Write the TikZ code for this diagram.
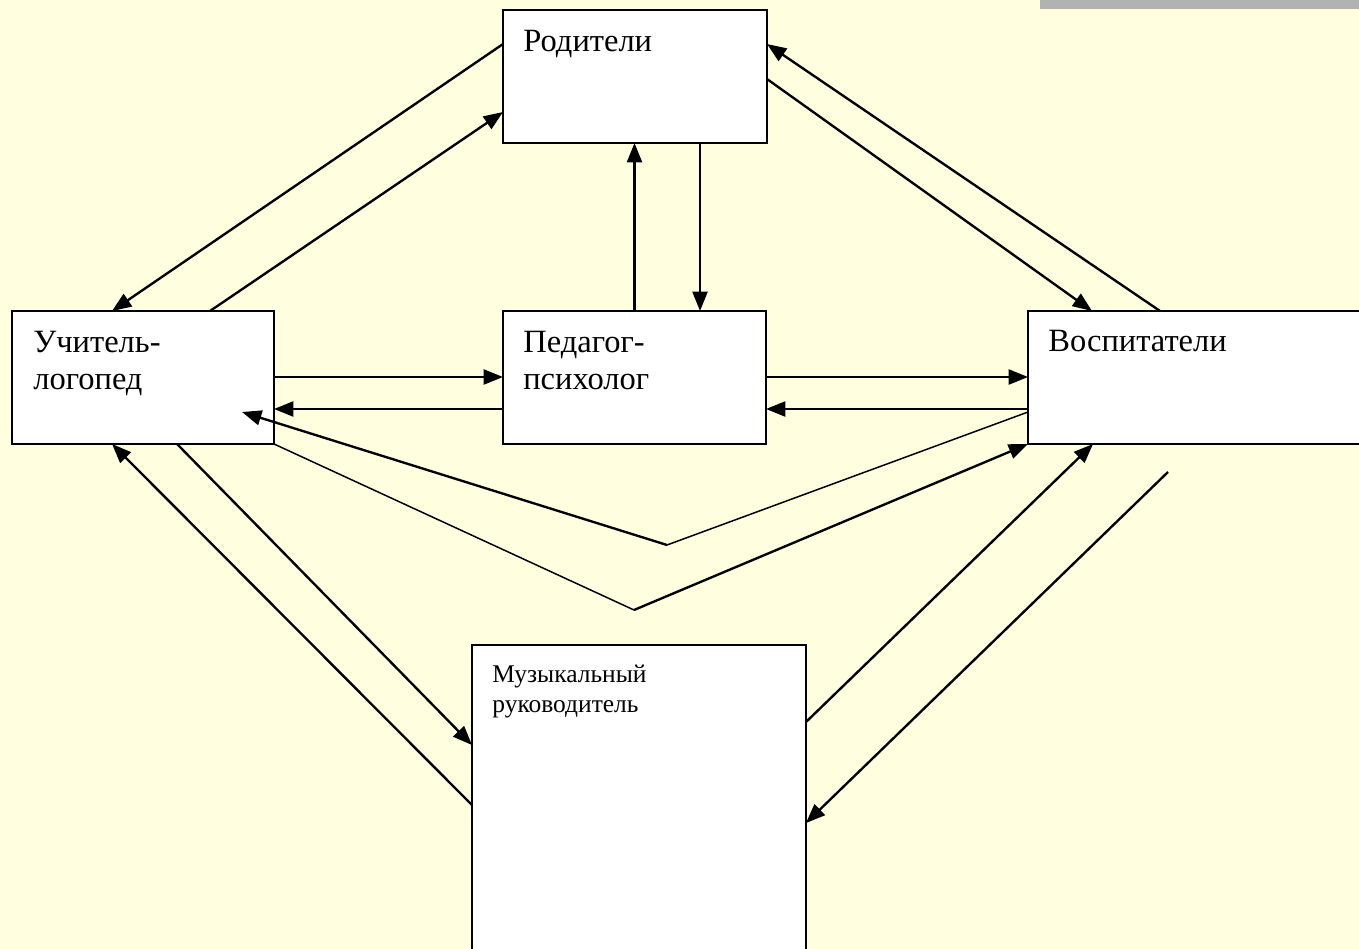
\documentclass[tikz,border=0pt]{standalone}
\usepackage{fontspec}
\setmainfont{Liberation Serif}
\usetikzlibrary{arrows.meta,calc}

\definecolor{paper}{RGB}{255,255,224}
\definecolor{topbar}{RGB}{178,178,178}

\tikzset{
    box/.style={draw, rectangle, fill=white, line width=0.9pt, inner sep=0pt, outer sep=0pt},
    lbl/.style={anchor=base west, inner sep=0pt, align=left, font=\fontsize{18.5}{21.6}\selectfont},
    small lbl/.style={lbl, font=\fontsize{14.5}{17}\selectfont},
    link/.style={line width=1.35pt, -{Triangle[length=11pt,width=8.5pt]}},
    thin link/.style={line width=0.85pt}
}

\begin{document}
\begin{tikzpicture}[x=0.02cm, y=-0.02cm]
            \fill[paper] (0,0) rectangle (1359,949);
            \useasboundingbox (0,0) rectangle (1359,949);
            \fill[topbar] (1040,0) rectangle (1359,9);

            % boxes
            \node[box, minimum width=5.28cm, minimum height=2.66cm] (rod) at (635,76.5) {};
            \node[box, minimum width=5.24cm, minimum height=2.66cm] (log) at (143,377.5) {};
            \node[box, minimum width=5.26cm, minimum height=2.66cm] (psy) at (634.5,377.5) {};
            \node[box, minimum width=7.44cm, minimum height=2.66cm] (vos) at (1214,377.5) {};
            \node[box, minimum width=6.68cm, minimum height=7.10cm] (mus) at (639,822.5) {};

            % labels (base = last line)
            \node[lbl] (rodtxt) at (523,52) {Родители};
            \node[lbl] (logtxt) at (33,390) {Учитель-\\логопед};
            \node[lbl] (psytxt) at (523,390) {Педагог-\\психолог};
            \node[lbl] (vostxt) at (1048,352) {Воспитатели};
            \node[small lbl] (mustxt) at (492,712) {Музыкальный\\руководитель};

            % parents
            \draw[link] ($(rod.north west)+(0,34)$) -- ($(log.north west)+(100,0)$);
            \draw[link] ($(log.north west)+(198,0)$) -- ($(rod.north west)+(0,102)$);
            \draw[link] (psy.north) -- (psy.north |- rod.south);
            \draw[link] ($(rod.south west)+(197,0)$) -- ($(psy.north west)+(197,0)$);
            \draw[link] ($(rod.north east)+(0,69)$) -- ($(vos.north west)+(64,0)$);
            \draw[link] ($(vos.north west)+(132,0)$) -- ($(rod.north east)+(0,34)$);

            % middle row
            \draw[link] ($(log.north east)+(0,66)$) -- ($(psy.north west)+(0,66)$);
            \draw[link] ($(psy.north west)+(0,98)$) -- ($(log.north east)+(0,98)$);
            \draw[link] ($(psy.north east)+(0,66)$) -- ($(vos.north west)+(0,66)$);
            \draw[link] ($(vos.north west)+(0,98)$) -- ($(psy.north east)+(0,98)$);

            % long links under the psychologist
            \coordinate (bendA) at (667,545);
            \coordinate (bendB) at (634,610);
            \draw[thin link] ($(vos.north west)+(0,101)$) -- (bendA);
            \draw[link] (bendA) -- ($(log.north west)+(230,101)$);
            \draw[thin link] (log.south east) -- (bendB);
            \draw[link] (bendB) -- (vos.south west);

            % music director
            \draw[link] ($(mus.north west)+(0,160)$) -- ($(log.south west)+(100,0)$);
            \draw[link] ($(log.south west)+(165,0)$) -- ($(mus.north west)+(0,100)$);
            \draw[link] ($(mus.north east)+(0,77)$) -- ($(vos.south west)+(65,0)$);
            \coordinate (freeend) at (1168,472);
            \draw[link] (freeend) -- ($(mus.north east)+(0,178)$);
        \end{tikzpicture}
\end{document}
